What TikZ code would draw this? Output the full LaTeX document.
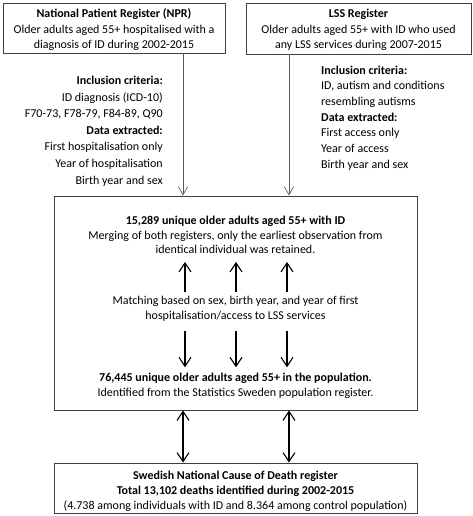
\documentclass[tikz,border=0pt]{standalone}
\usepackage{fontspec}
\setmainfont{Carlito}
\usetikzlibrary{arrows.meta}
\tikzset{
  box/.style={draw=black!75, line width=0.9pt, fill=white},
  txt/.style={inner sep=0pt, font=\fontsize{12}{15.5}\selectfont},
  thinarrow/.style={draw=black!65, line width=0.7pt, -{Straight Barb[length=8pt,width=9pt]}},
  thickarrow/.style={draw=black, line width=1.3pt, -{Straight Barb[length=9pt,width=12pt,line width=1.1pt]}},
  dblarrow/.style={draw=black, line width=1.3pt, {Straight Barb[length=9pt,width=12pt,line width=1.1pt]}-{Straight Barb[length=9pt,width=12pt,line width=1.1pt]}},
}
\begin{document}
\begin{tikzpicture}[x=1pt,y=-1pt]
\useasboundingbox (0,0) rectangle (472,516);
% top boxes
\node[box, minimum width=222pt, minimum height=50pt, inner sep=0pt] (npr) at (114,28) {};
\node[txt, align=center] (nprt) at (114,30) {\textbf{National Patient Register (NPR)}\\Older adults aged 55+ hospitalised with a\\diagnosis of ID during 2002-2015};
\node[box, minimum width=225pt, minimum height=51pt, inner sep=0pt] (lss) at (358.5,28.5) {};
\node[txt, align=center] (lsst) at (358.5,30) {\textbf{LSS Register}\\Older adults aged 55+ with ID who used\\any LSS services during 2007-2015};
% criteria
\node[txt, align=right, anchor=east, font=\fontsize{12}{16.6}\selectfont] (nprc) at (163,131) {\textbf{Inclusion criteria:}\\ID diagnosis (ICD-10)\\F70-73, F78-79, F84-89, Q90\\\textbf{Data extracted:}\\First hospitalisation only\\Year of hospitalisation\\Birth year and sex};
\node[txt, align=left, anchor=west, font=\fontsize{12}{15.7}\selectfont] (lssc) at (321,118) {\textbf{Inclusion criteria:}\\ID, autism and conditions\\resembling autisms\\\textbf{Data extracted:}\\First access only\\Year of access\\Birth year and sex};
% main box
\node[box, minimum width=363pt, minimum height=214pt, inner sep=0pt] (main) at (235.5,303) {};
\node[txt, align=center, font=\fontsize{12}{14.5}\selectfont] (merge) at (235.5,235) {\textbf{15,289 unique older adults aged 55+ with ID}\\Merging of both registers, only the earliest observation from\\identical individual was retained.};
\node[txt, align=center, font=\fontsize{12}{14.5}\selectfont] (match) at (235.5,309) {Matching based on sex, birth year, and year of first\\hospitalisation/access to LSS services};
\node[txt, align=center, font=\fontsize{12}{14.5}\selectfont] (pop) at (235.5,386) {\textbf{76,445 unique older adults aged 55+ in the population.}\\Identified from the Statistics Sweden population register.};
% bottom box
\node[box, minimum width=363pt, minimum height=50pt, inner sep=0pt] (death) at (235.5,488) {};
\node[txt, align=center, font=\fontsize{12}{15}\selectfont] (deatht) at (235.5,491) {\textbf{Swedish National Cause of Death register}\\\textbf{Total 13,102 deaths identified during 2002-2015}\\(4.738 among individuals with ID and 8.364 among control population)};
% columns
\coordinate (c1) at (183,0);
\coordinate (c2) at (289,0);
\coordinate (m1) at (185,0);
\coordinate (m2) at (236,0);
\coordinate (m3) at (287,0);
\draw[thinarrow] (npr.south -| c1) -- (main.north -| c1);
\draw[thinarrow] (lss.south -| c2) -- (main.north -| c2);
\foreach \m in {m1,m2,m3}{
  \draw[thickarrow] ([yshift=4pt]match.north -| \m) -- ([yshift=-8pt]merge.south -| \m);
  \draw[thickarrow] ([yshift=-9.5pt]match.south -| \m) -- ([yshift=6pt]pop.north -| \m);
}
\draw[dblarrow] (main.south -| c1) -- (death.north -| c1);
\draw[dblarrow] (main.south -| c2) -- (death.north -| c2);
\end{tikzpicture}
\end{document}
